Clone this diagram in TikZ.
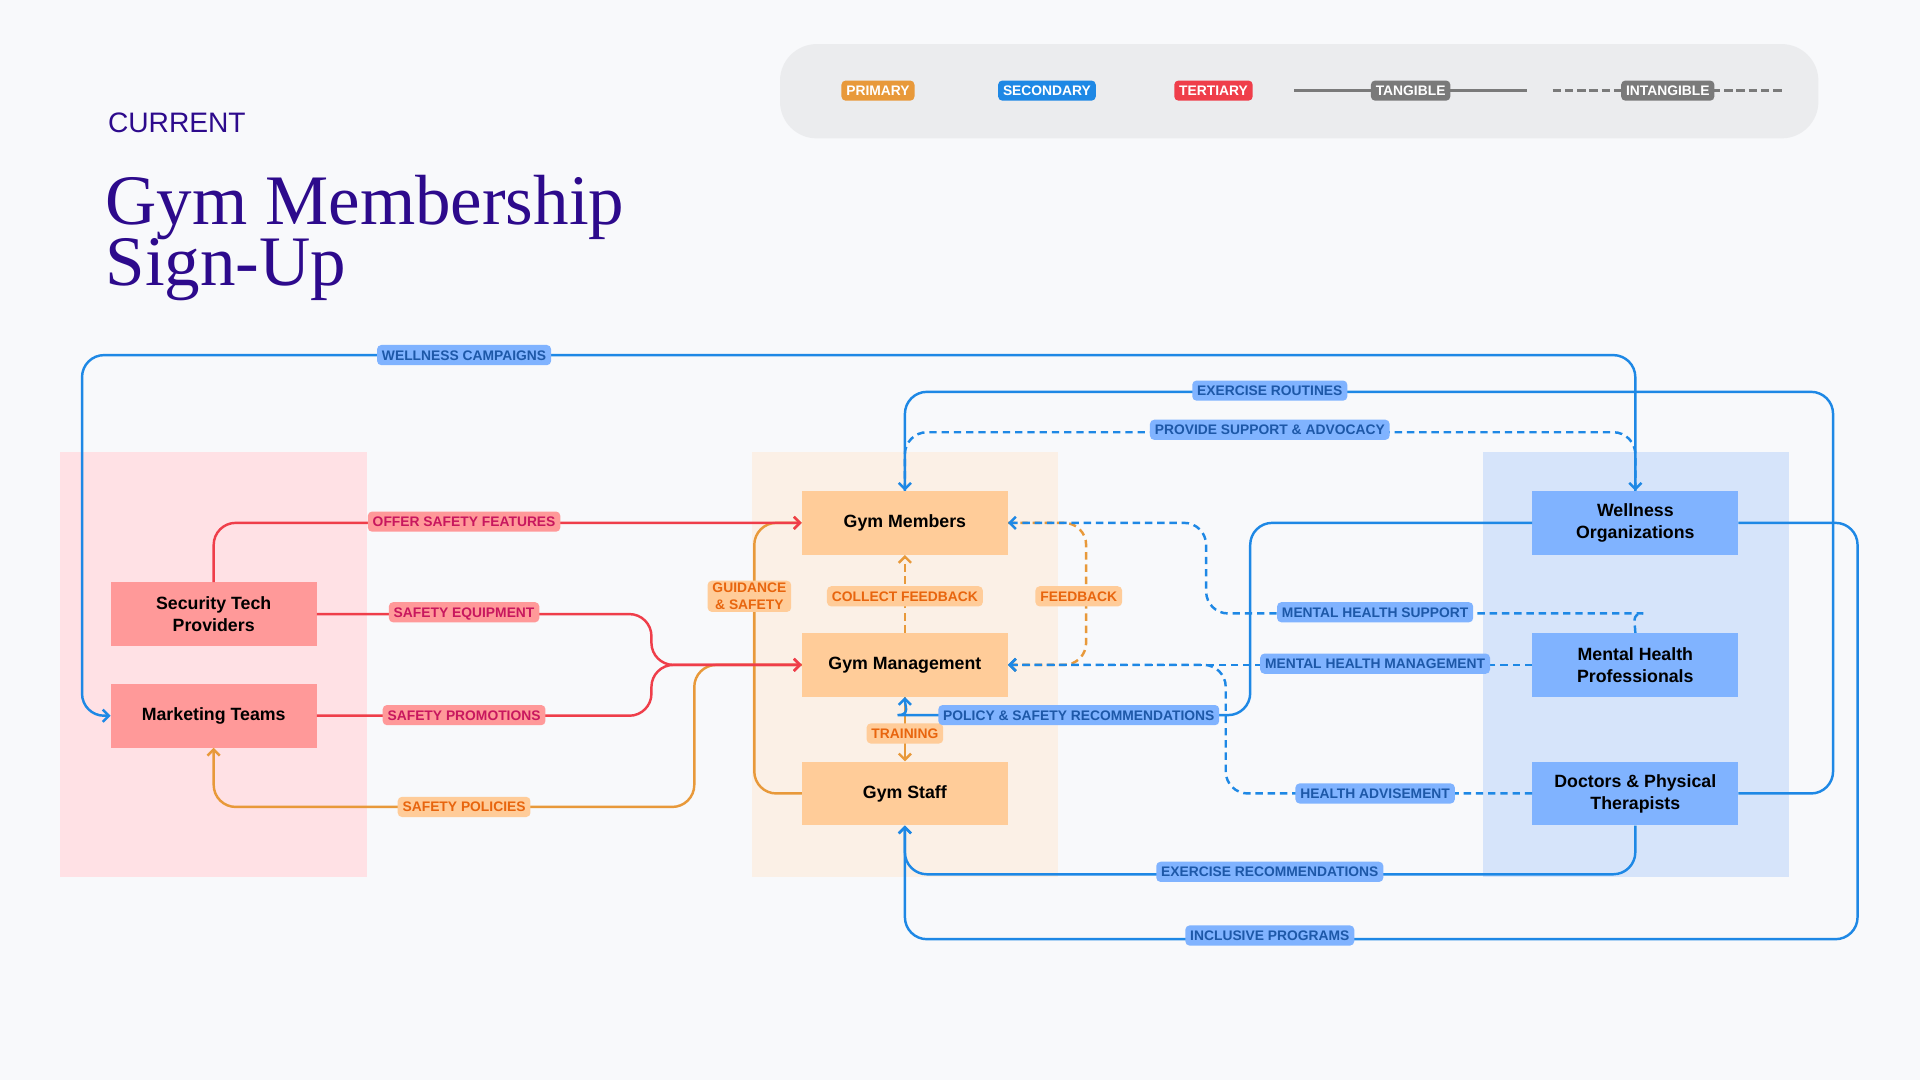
\documentclass[tikz,border=0pt]{standalone}
\usepackage{fontspec}
\setmainfont{Liberation Sans}
\newfontfamily\titlefont{Liberation Serif}
\usetikzlibrary{arrows.meta}
\newcommand\mytightlines{\lineskiplimit=-100pt\relax\lineskip=0pt\relax}
\definecolor{bg}{HTML}{F8F9FB}
\definecolor{legbg}{HTML}{EBECEE}
\definecolor{cblue}{HTML}{1E88E5}
\definecolor{cred}{HTML}{EF3E4A}
\definecolor{corange}{HTML}{E8993A}
\definecolor{cgray}{HTML}{7A7A7A}
\definecolor{fblue}{HTML}{80B3FF}
\definecolor{fred}{HTML}{FF9999}
\definecolor{forange}{HTML}{FFCC99}
\definecolor{tblue}{HTML}{1D58A8}
\definecolor{tred}{HTML}{C8175E}
\definecolor{torange}{HTML}{E8650E}
\definecolor{gpink}{HTML}{FFE1E5}
\definecolor{gpeach}{HTML}{FBF0E6}
\definecolor{gblue}{HTML}{D6E4FA}
\definecolor{titlec}{HTML}{2D0A8C}
\tikzset{
  box/.style={minimum width=168pt, minimum height=52pt, inner sep=0pt, align=center,
    font=\bfseries\fontsize{14.5}{18}\selectfont, text=black},
  redbox/.style={box, fill=fred},
  orbox/.style={box, fill=forange},
  bluebox/.style={box, fill=fblue},
  lbl/.style={rounded corners=3.5pt, inner xsep=4pt, inner ysep=0pt, text height=8.2pt, text depth=0pt,
    minimum height=16.5pt, font=\bfseries\fontsize{11.3}{13}\selectfont},
  bl/.style={lbl, fill=fblue, text=tblue},
  rl/.style={lbl, fill=fred, text=tred},
  ol/.style={lbl, fill=forange, text=torange},
  legl/.style={lbl, text=white},
  conn/.style={line width=2pt, rounded corners=18pt, -{Straight Barb[length=5pt,width=10pt]}},
  dsh/.style={dash pattern=on 6pt off 4pt},
}
\begin{document}
\begin{tikzpicture}[x=1pt,y=-1pt]
\fill[bg] (0,0) rectangle (1568,882);
\useasboundingbox (0,0) rectangle (1568,882);
% legend
\fill[legbg, rounded corners=30pt] (637,36) rectangle (1485,113);
\node[legl, fill=corange] (lp) at (717,74) {PRIMARY};
\node[legl, fill=cblue] (ls) at (855,74) {SECONDARY};
\node[legl, fill=cred] (lt) at (991,74) {TERTIARY};
\coordinate (tga) at (1057,74);
\coordinate (tgb) at (1247,74);
\coordinate (iga) at (1268,74);
\coordinate (igb) at (1458,74);
\draw[cgray, line width=2pt] (tga) -- (tgb);
\draw[cgray, line width=2pt, dash pattern=on 7pt off 3pt] (iga) -- (igb);
\node[legl, fill=cgray] (ltg) at (1152,74) {TANGIBLE};
\node[legl, fill=cgray] (lig) at (1362,74) {INTANGIBLE};
% title
\node[anchor=base west, inner sep=0pt, font=\fontsize{23}{23}\selectfont, text=titlec] (cur) at (88,108) {CURRENT};
\node[anchor=north west, inner sep=0pt, align=left, text=titlec,
  font=\titlefont\fontsize{58}{50}\selectfont\mytightlines] (title) at (86,143)
  {Gym Membership\\Sign-Up};
% groups
\fill[gpink] (49,369) rectangle (300,716);
\fill[gpeach] (614,369) rectangle (864,716);
\fill[gblue] (1211,369) rectangle (1461,716);
% nodes
\node[redbox] (stp) at (174.5,501.5) {Security Tech\\Providers};
\node[redbox] (mt) at (174.5,584.5) {Marketing Teams};
\node[orbox] (gm) at (739,427) {Gym Members};
\node[orbox] (gmg) at (739,543) {Gym Management};
\node[orbox] (gs) at (739,648) {Gym Staff};
\node[bluebox] (wo) at (1335.5,427) {Wellness\\Organizations};
\node[bluebox] (mhp) at (1335.5,543) {Mental Health\\Professionals};
\node[bluebox] (dpt) at (1335.5,648) {Doctors \& Physical\\Therapists};
% orange connectors
\draw[conn, corange] (gmg.west) -- (567,543) -- (567,659) -| (mt.south);
\draw[conn, corange] (gs.west) -- (616,648) -- (616,427) -- (gm.west);
\draw[conn, corange, dsh] (gmg.north) -- (gm.south);
\draw[conn, corange, dsh] (gm.east) -- (887,427) -- (887,543) -- (gmg.east);
\draw[conn, corange] (gmg.south) -- (gs.north);
% red connectors
\draw[conn, cred] (stp.north) |- (gm.west);
\draw[conn, cred] (stp.east) -- (532,501.5) -- (532,543) -- (gmg.west);
\draw[conn, cred] (mt.east) -- (532,584.5) -- (532,543) -- (gmg.west);
% blue connectors
\draw[conn, cblue] (wo.north) |- (67,290) |- (mt.west);
\draw[conn, cblue] (dpt.east) -- (1497,648) -- (1497,320) -- (739,320) -- (gm.north);
\draw[conn, cblue, dsh] (gm.north) -- (739,353) -- (1335.5,353) -- (wo.north);
\draw[conn, cblue] (wo.west) -- (1021,427) -- (1021,584) -- (751,584) to[out=180,in=-90] (gmg.south);
\draw[conn, cblue, dsh] (mhp.north) to[out=90,in=0] (1324,501) -- (985,501) -- (985,427) -- (gm.east);
\draw[conn, cblue, dsh] (mhp.west) -- (gmg.east);
\draw[conn, cblue, dsh] (dpt.west) -- (1001,648) -- (1001,543) -- (gmg.east);
\draw[conn, cblue] (dpt.south) -- (1335.5,714) -- (739,714) -- (gs.south);
\draw[conn, cblue] (wo.east) -- (1517,427) -- (1517,767) -- (739,767) -- (gs.south);
% labels
\node[bl] (l1) at (379,290) {WELLNESS CAMPAIGNS};
\node[bl] (l2) at (1037,319) {EXERCISE ROUTINES};
\node[bl] (l3) at (1037,351) {PROVIDE SUPPORT \& ADVOCACY};
\node[rl] (l4) at (379,426) {OFFER SAFETY FEATURES};
\node[rl] (l5) at (379,500) {SAFETY EQUIPMENT};
\node[rl] (l6) at (379,584) {SAFETY PROMOTIONS};
\node[ol] (l7) at (379,659) {SAFETY POLICIES};
\node[ol, text height=, text depth=, inner ysep=2pt, align=center, font=\bfseries\fontsize{11.3}{13.5}\selectfont] (l8) at (612,487) {GUIDANCE\\\& SAFETY};
\node[ol] (l9) at (739,487) {COLLECT FEEDBACK};
\node[ol] (l10) at (881,487) {FEEDBACK};
\node[ol] (l11) at (739,599) {TRAINING};
\node[bl] (l12) at (881,584) {POLICY \& SAFETY RECOMMENDATIONS};
\node[bl] (l13) at (1123,500) {MENTAL HEALTH SUPPORT};
\node[bl] (l14) at (1123,542) {MENTAL HEALTH MANAGEMENT};
\node[bl] (l15) at (1123,648) {HEALTH ADVISEMENT};
\node[bl] (l16) at (1037,712) {EXERCISE RECOMMENDATIONS};
\node[bl] (l17) at (1037,764) {INCLUSIVE PROGRAMS};
\end{tikzpicture}
\end{document}
